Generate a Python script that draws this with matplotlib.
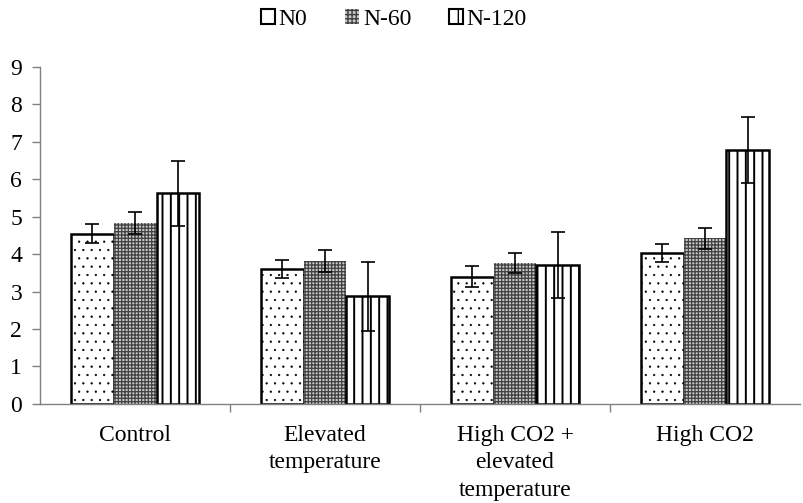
import numpy as np
import matplotlib.pyplot as plt
from matplotlib.patches import Patch

plt.rcParams['font.family'] = ['Liberation Serif', 'DejaVu Serif']

treatments = ['Control', 'Elevated\ntemperature', 'High CO2 +\nelevated\ntemperature', 'High CO2']
series = ['N0', 'N-60', 'N-120']

n0 = [4.55, 3.6, 3.4, 4.02]
n60 = [4.84, 3.82, 3.76, 4.42]
n120 = [5.62, 2.87, 3.7, 6.78]

n0_err = [0.26, 0.25, 0.27, 0.24]
n60_err = [0.29, 0.29, 0.26, 0.28]
n120_err = [0.88, 0.91, 0.88, 0.88]

fig = plt.figure(figsize=(8.04, 5.03), dpi=100)
ax = fig.add_axes([0.05, 0.197, 0.945, 0.67])

x = np.arange(len(treatments))
w = 0.225
err_kw = dict(ecolor='black', elinewidth=1.2, capsize=5, capthick=1.2)

with plt.rc_context({'hatch.linewidth': 0.4}):
    ax.bar(x - w, n0, w, yerr=n0_err, color='white', edgecolor='black', linewidth=1.8,
           hatch='..', error_kw=err_kw, zorder=2)
with plt.rc_context({'hatch.linewidth': 0.9}):
    ax.bar(x, n60, w, yerr=n60_err, color='#c8c8c8', edgecolor='#404040', linewidth=0,
           hatch='+++++', error_kw=err_kw, zorder=2)
with plt.rc_context({'hatch.linewidth': 1.4}):
    ax.bar(x + w, n120, w, yerr=n120_err, color='white', edgecolor='black', linewidth=1.8,
           hatch='||', error_kw=err_kw, zorder=2)

ax.set_xlim(-0.5, len(treatments) - 0.5)
ax.set_ylim(0, 9)
ax.set_yticks(range(0, 10))
ax.tick_params(axis='y', labelsize=17, length=6, pad=7, color='#808080', width=1)

# category labels between boundary ticks
ax.set_xticks(x)
ax.set_xticklabels(treatments, fontsize=17, linespacing=1.4, va='top')
ax.tick_params(axis='x', length=0, pad=15)
ax.set_xticks(np.arange(0.5, len(treatments) - 0.5, 1), minor=True)
ax.tick_params(axis='x', which='minor', length=6, color='#808080', width=1)

for s in ['top', 'right']:
    ax.spines[s].set_visible(False)
for s in ['left', 'bottom']:
    ax.spines[s].set_color('#808080')
    ax.spines[s].set_linewidth(1)

handles = [
    Patch(facecolor='white', edgecolor='black', linewidth=1.5, label=series[0]),
    Patch(facecolor='#c8c8c8', edgecolor='#404040', linewidth=0, hatch='++++', label=series[1]),
    Patch(facecolor='white', edgecolor='black', linewidth=1.5, hatch='|', label=series[2]),
]
fig.legend(handles=handles, loc='upper center', bbox_to_anchor=(0.49, 1.025), ncol=3,
           frameon=False, fontsize=17, handlelength=0.6, handleheight=0.6,
           handletextpad=0.15, columnspacing=1.6)

fig.savefig('out.png', dpi=100)
